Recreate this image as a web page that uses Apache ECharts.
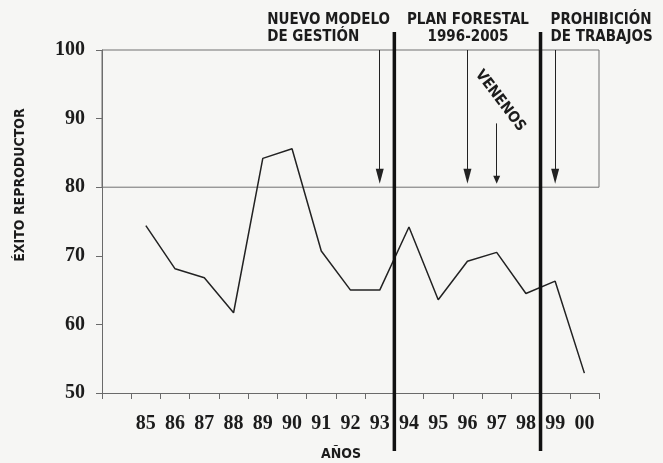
<!DOCTYPE html>
<html><head><meta charset="utf-8">
<script src="https://cdn.jsdelivr.net/npm/echarts@6/dist/echarts.min.js"></script>
<style>html,body{margin:0;padding:0;background:#f6f6f4}#c{width:663px;height:463px}</style>
</head><body><div id="c"></div>
<script>
// ---- data ----
const years = ['', '85','86','87','88','89','90','91','92','93','94','95','96','97','98','99','00'];
const exito = [null, 74.4, 68.1, 66.8, 61.7, 84.2, 85.6, 70.7, 65.0, 65.0, 74.2, 63.6, 69.2, 70.5, 64.5, 66.3, 52.9];
const yTicks = [50, 60, 70, 80, 90, 100];
const banda = [80, 100];
const eventTexts = ['NUEVO MODELO\nDE GESTIÓN', 'PLAN FORESTAL\n1996-2005', 'VENENOS', 'PROHIBICIÓN\nDE TRABAJOS'];
const eventYears = ['93', '96', '97', '99'];
const eventFrom = [100, 100, 89.3, 100];
const eventTo = [81.6, 81.6, 81.1, 81.6];
const cuts = [['93', '94'], ['98', '99']];
const xTitle = 'AÑOS';
const yTitle = 'ÉXITO REPRODUCTOR';

// ---- chart ----
const SANS = '"DejaVu Sans Condensed", "DejaVu Sans", sans-serif';
const SERIF = '"Liberation Serif", "DejaVu Serif", serif';
const INK = '#1c1c1c';
const AXIS = '#6a6a6a';

const chart = echarts.init(document.getElementById('c'), null, {renderer: 'canvas'});

const arrowData = eventYears.map((yr, i) => {
  const small = eventTexts[i] === 'VENENOS';
  return [
    {xAxis: yr, yAxis: eventFrom[i], symbol: 'none'},
    {xAxis: yr, yAxis: eventTo[i], symbol: 'triangle', symbolSize: small ? [7, 8] : [8, 15]}
  ];
});

chart.setOption({
  backgroundColor: '#f6f6f4',
  animation: false,
  grid: {left: 102, right: 64, top: 50, bottom: 70, containLabel: false},
  xAxis: {
    type: 'category',
    data: years,
    boundaryGap: true,
    axisLine: {show: true, lineStyle: {color: AXIS, width: 1}},
    axisTick: {show: true, length: 6, interval: 0, lineStyle: {color: AXIS}},
    axisLabel: {interval: 0, margin: 21, color: INK, fontFamily: SERIF, fontWeight: 'bold', fontSize: 20},
    splitLine: {show: false}
  },
  yAxis: {
    type: 'value',
    min: yTicks[0], max: yTicks[yTicks.length - 1], interval: yTicks[1] - yTicks[0],
    axisLine: {show: true, lineStyle: {color: AXIS, width: 1}},
    axisTick: {show: true, length: 6, lineStyle: {color: AXIS}},
    axisLabel: {margin: 17, color: INK, fontFamily: SERIF, fontWeight: 'bold', fontSize: 20},
    splitLine: {show: false}
  },
  series: [{
    type: 'line',
    data: exito,
    connectNulls: false,
    symbol: 'none',
    lineStyle: {color: '#222', width: 1.5},
    markArea: {
      silent: true,
      itemStyle: {color: 'rgba(0,0,0,0)', borderColor: '#707070', borderWidth: 1},
      label: {show: false},
      data: [[{yAxis: banda[0], x: 102}, {yAxis: banda[1], xAxis: '00', x: 599}]]
    },
    markLine: {
      silent: true,
      animation: false,
      label: {show: false},
      lineStyle: {color: '#222', width: 1, type: 'solid'},
      emphasis: {disabled: true},
      data: arrowData
    }
  }]
});

// ---- annotations placed through the axes ----
function px(cat) { return chart.convertToPixel({xAxisIndex: 0}, cat); }
function py(v) { return chart.convertToPixel({yAxisIndex: 0}, v); }

const graphics = [];
cuts.forEach(c => {
  const x = (px(c[0]) + px(c[1])) / 2;
  graphics.push({type: 'line', shape: {x1: x, y1: 32, x2: x, y2: 451}, style: {stroke: '#111', lineWidth: 3.5}, z: 10});
});

const txt = (text, x, y, align, vAlign, extra) => Object.assign({
  type: 'text', x: x, y: y, z: 12,
  style: {text: text, fill: INK, fontFamily: SANS, fontWeight: 'bold', fontSize: 15, lineHeight: 17, align: align, verticalAlign: vAlign}
}, extra || {});

const topY = 12;
graphics.push(txt(eventTexts[0], px(eventYears[0]) - 112.5, topY, 'left', 'top'));
graphics.push(txt(eventTexts[1], px(eventYears[1]) + 0.5, topY, 'center', 'top'));
graphics.push(txt(eventTexts[2], px(eventYears[2]) + 3.5, py(92.6), 'center', 'middle', {rotation: -0.92}));
graphics.push(txt(eventTexts[3], px(eventYears[3]) - 4.6, topY, 'left', 'top'));

graphics.push(txt(yTitle, 20, 185, 'center', 'middle', {rotation: Math.PI / 2, style: {text: yTitle, fill: INK, fontFamily: SANS, fontWeight: 'bold', fontSize: 14, align: 'center', verticalAlign: 'middle'}}));
graphics.push(txt(xTitle, 341, 454, 'center', 'middle', {style: {text: xTitle, fill: INK, fontFamily: SANS, fontWeight: 'bold', fontSize: 14, align: 'center', verticalAlign: 'middle'}}));

chart.setOption({graphic: graphics});
</script>
</body></html>
